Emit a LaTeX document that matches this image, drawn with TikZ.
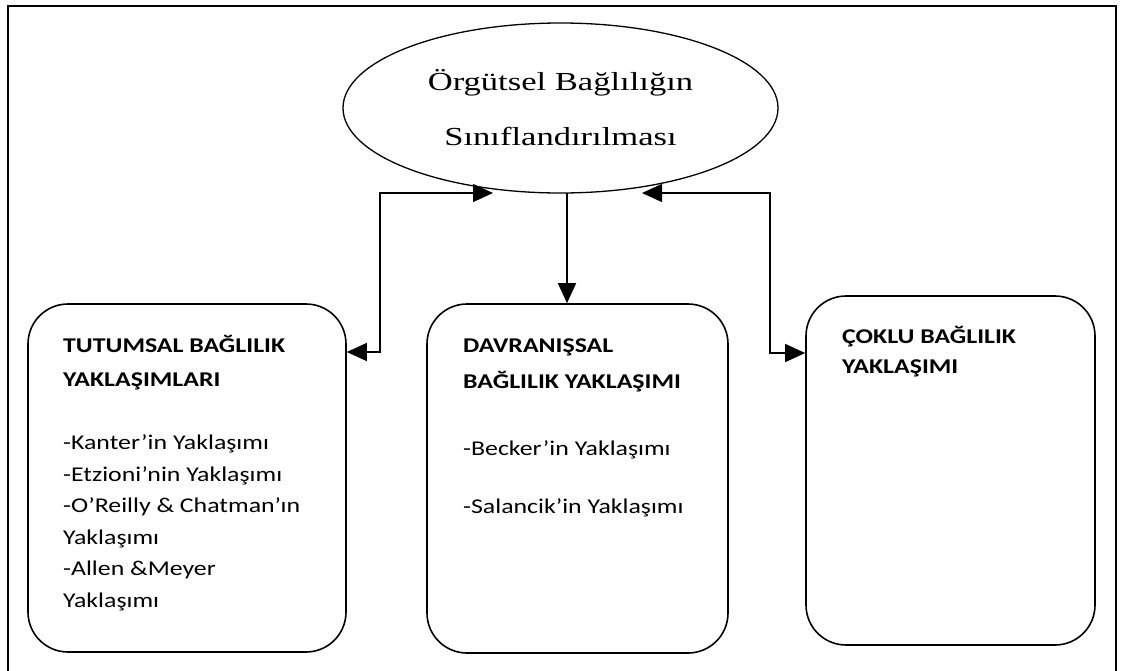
\documentclass[tikz,border=0pt]{standalone}
\usepackage{fontspec}
\usetikzlibrary{arrows.meta,shapes.geometric}
\newfontfamily\titlefont[FakeStretch=1.33]{Liberation Serif}
\newfontfamily\boxfont[FakeStretch=1.23]{Carlito}

\begin{document}
\begin{tikzpicture}[x=1pt,y=-1pt,
  frame/.style={line width=2.5pt},
  rootshape/.style={draw, ellipse, line width=1.3pt, minimum width=435pt, minimum height=170pt,
    inner sep=0pt, align=center, font=\titlefont\fontsize{26}{55}\selectfont},
  panel/.style={draw, rounded corners=40pt, line width=1.6pt, inner sep=0pt},
  paneltext/.style={anchor=base west, inner sep=0pt, align=left,
    font=\boxfont\fontsize{21}{31.5}\selectfont},
  tip/.tip={Triangle[length=20pt,width=18pt]},
  conn/.style={line width=1.4pt, -tip},
  conntwo/.style={line width=1.4pt, tip-tip}]
\useasboundingbox (0,0) rectangle (1121,670);

% outer frame, open at the bottom
\draw[frame] (8,675) -- (8,6) -- (1116,6) -- (1116,675);

% central ellipse
\node[rootshape] (root) at (560.5,108) {Örgütsel Bağlılığın\\Sınıflandırılması};

% the three rounded panels
\node[panel, minimum width=318pt, minimum height=348pt] (tutum) at (187,478) {};
\node[panel, minimum width=301pt, minimum height=349pt] (davr) at (577.5,478.5) {};
\node[panel, minimum width=289pt, minimum height=349pt] (coklu) at (950.5,470.5) {};

% panel contents (placed by the baseline of their last line)
\node[paneltext] (tutumtext) at (63,607)
  {\bfseries TUTUMSAL BAĞLILIK\\[2.5pt]
   \bfseries YAKLAŞIMLARI\\[31.5pt]
   -Kanter’in Yaklaşımı\\
   -Etzioni’nin Yaklaşımı\\
   -O’Reilly \& Chatman’ın\\
   Yaklaşımı\\
   -Allen \&Meyer\\
   Yaklaşımı};
\node[paneltext] (davrtext) at (463,513)
  {\bfseries DAVRANIŞSAL\\[4.5pt]
   \bfseries BAĞLILIK YAKLAŞIMI\\[35.5pt]
   -Becker’in Yaklaşımı\\[26.5pt]
   -Salancik’in Yaklaşımı};
\node[paneltext] (coklutext) at (842,373)
  {\bfseries ÇOKLU BAĞLILIK\\[-1.5pt]
   \bfseries YAKLAŞIMI};

% connector corner points
\coordinate (lin) at (493,193);
\coordinate (lt) at (380,193);
\coordinate (lj) at (380,352);
\coordinate (rin) at (642,193);
\coordinate (rt) at (770,193);
\coordinate (rj) at (770,353);
\coordinate (mtop) at (567,193);

% connectors
\draw[conntwo] (tutum.east |- lj) -- (lj) -- (lt) -- (lin);
\draw[conntwo] (rin) -- (rt) -- (rj) -- (coklu.west |- rj);
\draw[conn] (mtop) -- (mtop |- davr.north);
\end{tikzpicture}
\end{document}
